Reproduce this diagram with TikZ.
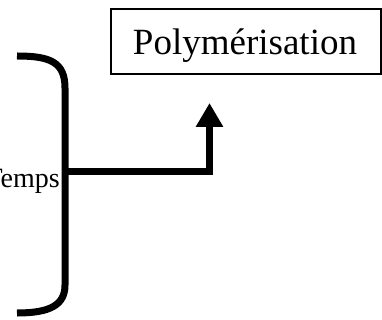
\documentclass[tikz,border=0pt]{standalone}
\usepackage{fontspec}
\setmainfont{Liberation Serif}
\usetikzlibrary{arrows.meta}
\begin{document}
\begin{tikzpicture}[x=1pt,y=-1pt,
  thickline/.style={line width=7pt,black},
  boxnode/.style={draw,line width=1.3pt,minimum width=270pt,minimum height=65pt,inner sep=0pt}]
\useasboundingbox (0,0) rectangle (382,320);
% box
\node[boxnode] (polybox) at (246,41.5) {};
\node[anchor=base,font=\fontsize{37}{40}\selectfont,inner sep=0pt] (poly) at (245,55) {Polymérisation};
% temps label
\node[anchor=base east,font=\fontsize{28}{32}\selectfont,inner sep=0pt] (temps) at (60,188) {Temps};
% brace
\coordinate (btop) at (17,56);
\coordinate (bbot) at (17,313);
\coordinate (bmid) at (65,172);
\draw[thickline] (btop) .. controls (50,56) and (65,62) .. (65,88) -- (65,285) .. controls (65,305) and (50,313) .. (bbot);
% connector
\coordinate (corner) at (209.5,172);
\coordinate (tip) at (209.5,103);
\draw[thickline,-{Triangle[length=24pt,width=26pt]}] (bmid) -- (corner) -- (tip);
\end{tikzpicture}
\end{document}
